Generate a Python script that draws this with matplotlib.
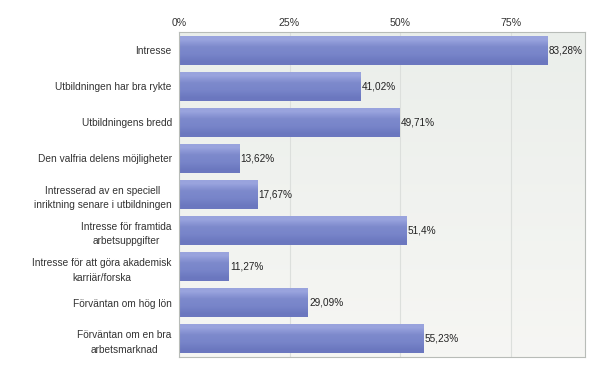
import matplotlib.pyplot as plt
import numpy as np

categories = [
    "Intresse",
    "Utbildningen har bra rykte",
    "Utbildningens bredd",
    "Den valfria delens möjligheter",
    "Intresserad av en speciell\ninriktning senare i utbildningen",
    "Intresse för framtida\narbetsuppgifter",
    "Intresse för att göra akademisk\nkarriär/forska",
    "Förväntan om hög lön",
    "Förväntan om en bra\narbetsmarknad",
]
values = [83.28, 41.02, 49.71, 13.62, 17.67, 51.4, 11.27, 29.09, 55.23]
value_labels = ["83,28%", "41,02%", "49,71%", "13,62%", "17,67%", "51,4%", "11,27%", "29,09%", "55,23%"]
xticks = [0, 25, 50, 75]
xtick_labels = ["0%", "25%", "50%", "75%"]

plt.rcParams['font.family'] = ['Liberation Sans', 'DejaVu Sans']

fig = plt.figure(figsize=(6, 3.73), dpi=100)
ax = fig.add_axes([0.298, 0.043, 0.677, 0.871])

n = len(categories)
y = np.arange(n)
xmax = 91.7

# background gradient
grad = np.linspace(0, 1, 256).reshape(-1, 1)
top = np.array([0.92, 0.935, 0.92])
bot = np.array([0.965, 0.965, 0.955])
bg = top + (bot - top) * grad
ax.imshow(bg.reshape(256, 1, 3), extent=[0, xmax, n - 0.5, -0.5],
          aspect='auto', zorder=0, interpolation='bilinear')

for t in xticks[1:]:
    ax.axvline(t, color='#dcdfdc', lw=0.8, zorder=1)

# bars with a slight vertical shading
h = 0.8
shade = np.array([[0.6, 0.64, 0.87], [0.49, 0.54, 0.8], [0.47, 0.52, 0.79], [0.42, 0.47, 0.75]])
for yi, v in zip(y, values):
    ax.imshow(shade.reshape(4, 1, 3), extent=[0, v, yi + h / 2, yi - h / 2],
              aspect='auto', zorder=2, interpolation='bilinear')
ax.set_xlim(0, xmax)
ax.set_ylim(n - 0.5, -0.5)

for yi, v, lab in zip(y, values, value_labels):
    ax.text(v + 0.3, yi, lab, va='center', ha='left', fontsize=7.2, color='#222222', zorder=3)

ax.set_yticks(y)
ax.set_yticklabels(categories, fontsize=7.3, color='#333333', ha='right',
                   multialignment='center', linespacing=1.6)
ax.tick_params(axis='y', length=0, pad=5)
ax.xaxis.tick_top()
ax.set_xticks(xticks)
ax.set_xticklabels(xtick_labels, fontsize=7.6, color='#333333')
ax.tick_params(axis='x', length=0, pad=3)

for s in ax.spines.values():
    s.set_color('#b8bcb8')
    s.set_linewidth(0.8)

fig.savefig("out.png", dpi=100)
